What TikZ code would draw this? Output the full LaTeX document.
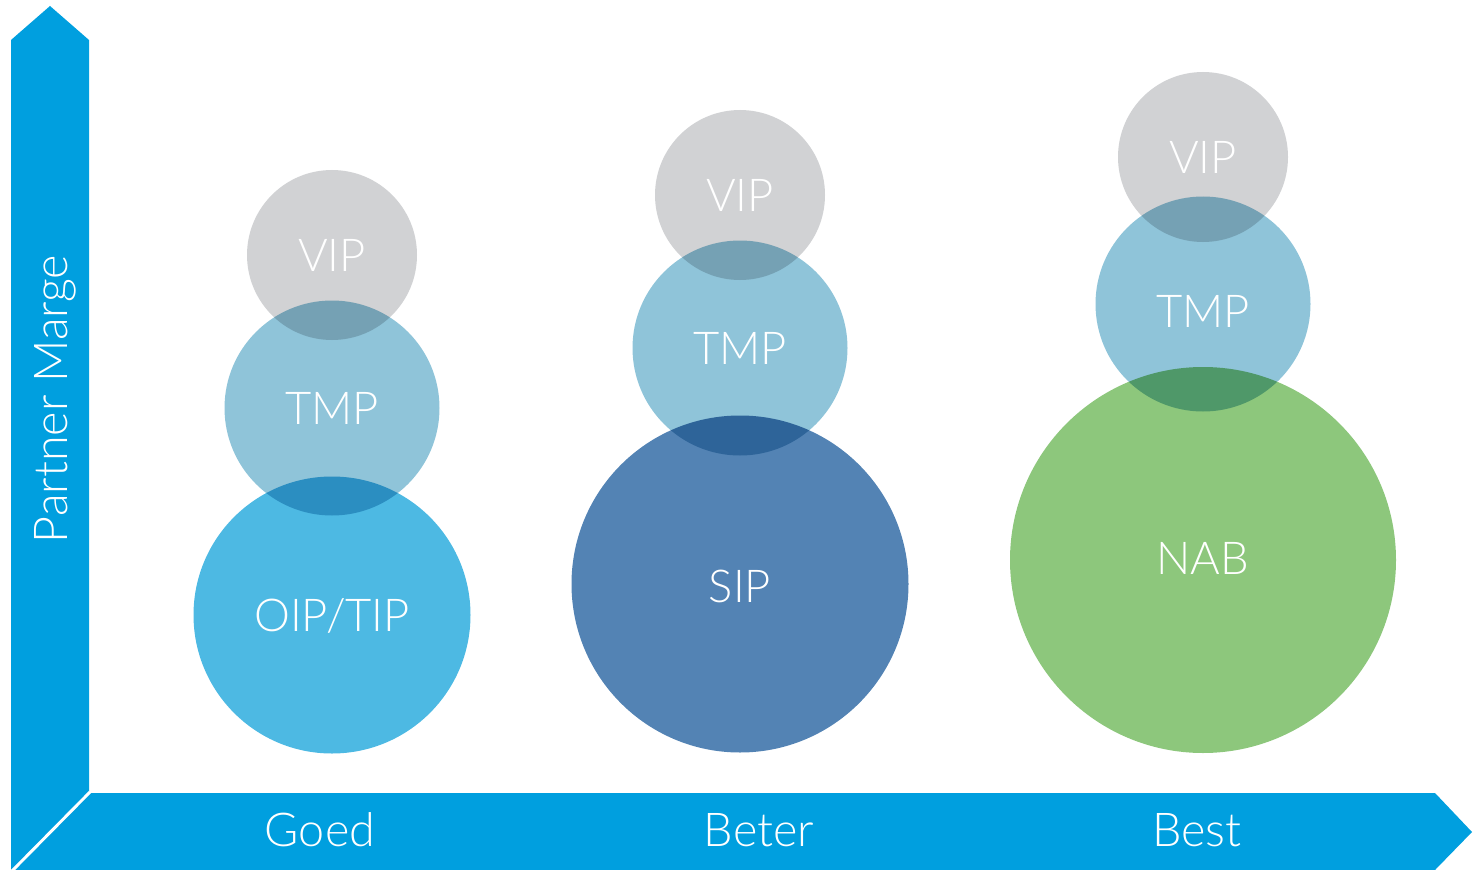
\documentclass[tikz,border=0pt]{standalone}
\usepackage{fontspec}
\setmainfont{Lato}[UprightFont=* Light]
\definecolor{axisblue}{RGB}{0,159,223}
\definecolor{vipgray}{RGB}{209,210,212}
\definecolor{tmpblue}{RGB}{143,196,217}
\definecolor{oipblue}{RGB}{77,185,227}
\definecolor{sipblue}{RGB}{83,131,180}
\definecolor{nabgreen}{RGB}{141,199,124}
\tikzset{
	lbl/.style={text=white, font=\fontsize{34}{36}\selectfont, inner sep=0},
	axlbl/.style={text=white, font=\fontsize{35}{37}\selectfont, inner sep=0}
}

\begin{document}
\begin{tikzpicture}[x=0.75pt, y=-0.75pt]
	\useasboundingbox (0,0) rectangle (1481,870);
	% Axes:
	\fill[axisblue] (11,870) -- (11,40) -- (50,6) -- (89,40) -- (89,793) -- cycle;
	\fill[axisblue] (89,793) -- (1435,793) -- (1472,832) -- (1435,870) -- (11,870) -- cycle;
	\draw[white, line width=2.2pt] (90,792) -- (12,871);
	% Circles:
	\begin{scope}[blend mode=multiply]
		\fill[vipgray] (332,255) circle[radius=85];
		\fill[tmpblue] (332,408) circle[radius=107.5];
		\fill[oipblue] (332,615) circle[radius=138.5];
		\fill[vipgray] (740,195) circle[radius=85];
		\fill[tmpblue] (740,348) circle[radius=107.5];
		\fill[sipblue] (740,584) circle[radius=168.5];
		\fill[vipgray] (1203,157) circle[radius=85];
		\fill[tmpblue] (1203,304) circle[radius=107.5];
		\fill[nabgreen] (1203,560) circle[radius=193];
	\end{scope}
	% Labels:
	\node[lbl] (vipGoed) at (332,255) {VIP};
	\node[lbl] (tmpGoed) at (332,408) {TMP};
	\node[lbl] (oipGoed) at (332,616) {OIP/TIP};
	\node[lbl] (vipBeter) at (740,195) {VIP};
	\node[lbl] (tmpBeter) at (740,348) {TMP};
	\node[lbl] (sipBeter) at (740,586) {SIP};
	\node[lbl] (vipBest) at (1203,157) {VIP};
	\node[lbl] (tmpBest) at (1203,311) {TMP};
	\node[lbl] (nabBest) at (1203,558) {NAB};
	\node[axlbl] (goed) at (320,830) {Goed};
	\node[axlbl] (beter) at (759,830) {Beter};
	\node[axlbl] (best) at (1197,830) {Best};
	\node[axlbl, rotate=90] (marge) at (55,399) {Partner Marge};
\end{tikzpicture}
\end{document}
